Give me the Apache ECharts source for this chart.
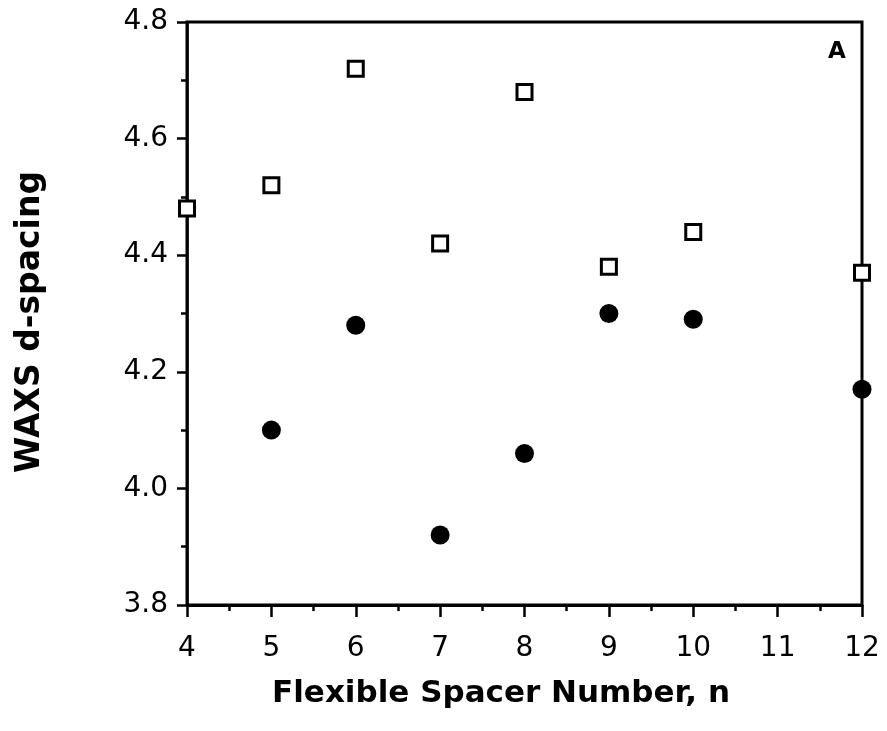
<!DOCTYPE html>
<html>
<head>
<meta charset="utf-8">
<script src="https://cdn.jsdelivr.net/npm/echarts@6/dist/echarts.min.js"></script>
<style>
  html, body { margin: 0; padding: 0; background: #fff; }
  #chart { width: 887px; height: 731px; }
</style>
</head>
<body>
<div id="chart"></div>
<script>
// open squares
var squareN = [4, 5, 6, 7, 8, 9, 10, 12]
var squareVals = [4.48, 4.52, 4.72, 4.42, 4.68, 4.38, 4.44, 4.37]
// filled circles
var circleN = [5, 6, 7, 8, 9, 10, 12]
var circleVals = [4.10, 4.28, 3.92, 4.06, 4.30, 4.29, 4.17]

var xTitle = 'Flexible Spacer Number, n'
var yTitle = 'WAXS d-spacing'
var panelLabel = 'A'

var chart = echarts.init(document.getElementById('chart'))

var labelFont = {
  color: '#000',
  fontFamily: 'DejaVu Sans',
  fontSize: 28
}

chart.setOption({
  animation: false,
  backgroundColor: '#fff',
  grid: {
    left: 187,
    right: 25,
    top: 22,
    bottom: 126,
    show: true,
    borderColor: '#000',
    borderWidth: 3
  },
  xAxis: {
    type: 'value',
    min: 4,
    max: 12,
    interval: 1,
    axisLine: { lineStyle: { color: '#000', width: 3 } },
    axisTick: { length: 12, lineStyle: { color: '#000', width: 2.5 } },
    minorTick: { show: true, splitNumber: 2, length: 6, lineStyle: { color: '#000', width: 2.5 } },
    splitLine: { show: false },
    axisLabel: Object.assign({ margin: 30 }, labelFont)
  },
  yAxis: {
    type: 'value',
    min: 3.8,
    max: 4.8,
    interval: 0.2,
    axisLine: { lineStyle: { color: '#000', width: 2.5 } },
    axisTick: { length: 10, lineStyle: { color: '#000', width: 2.5 } },
    minorTick: { show: true, splitNumber: 2, length: 6, lineStyle: { color: '#000', width: 2.5 } },
    splitLine: { show: false },
    axisLabel: Object.assign({
      margin: 19,
      formatter: function (v) { return v.toFixed(1) }
    }, labelFont)
  },
  graphic: [
    {
      type: 'text',
      x: 501,
      y: 694,
      style: {
        text: xTitle,
        fill: '#000',
        font: 'bold 31px "DejaVu Sans"',
        textAlign: 'center',
        textVerticalAlign: 'middle'
      }
    },
    {
      type: 'text',
      x: 30,
      y: 322,
      rotation: Math.PI / 2,
      style: {
        text: yTitle,
        fill: '#000',
        font: 'bold 33px "DejaVu Sans"',
        textAlign: 'center',
        textVerticalAlign: 'middle'
      }
    },
    {
      type: 'text',
      x: 837,
      y: 52,
      style: {
        text: panelLabel,
        fill: '#000',
        font: 'bold 23px "DejaVu Sans"',
        textAlign: 'center',
        textVerticalAlign: 'middle'
      }
    }
  ],
  series: [
    {
      name: 'square',
      type: 'scatter',
      clip: false,
      symbol: 'rect',
      symbolSize: 15,
      itemStyle: { color: '#fff', borderColor: '#000', borderWidth: 3, opacity: 1 },
      data: squareN.map(function (n, i) { return [n, squareVals[i]] })
    },
    {
      name: 'circle',
      type: 'scatter',
      clip: false,
      symbol: 'circle',
      symbolSize: 19,
      itemStyle: { color: '#000', opacity: 1 },
      data: circleN.map(function (n, i) { return [n, circleVals[i]] })
    }
  ]
})
</script>
</body>
</html>
